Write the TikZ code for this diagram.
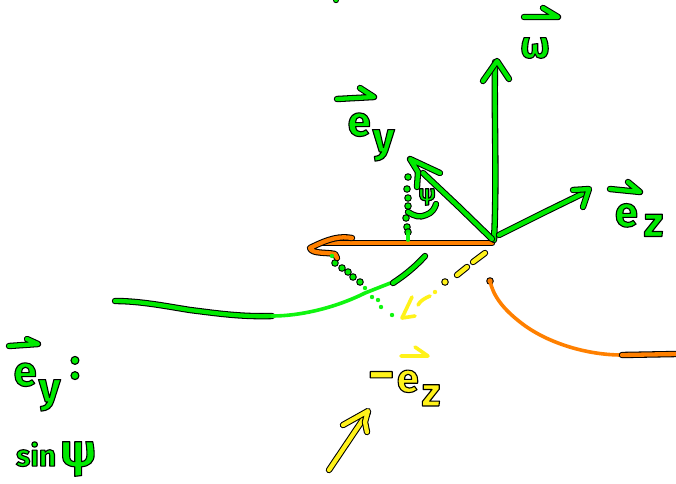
\documentclass[tikz,border=0pt]{standalone}
\usepackage{fontspec}
\setmainfont{Fira Sans}
\definecolor{hgreen}{HTML}{00EA00}
\definecolor{lgreen}{HTML}{10F510}
\definecolor{horange}{HTML}{FF8000}
\definecolor{hyellow}{HTML}{FFF21A}
\newcommand{\inked}[2]{%
  \draw[black,line width=6.4pt] #2;
  \draw[#1,line width=4.3pt] #2;}
\newcommand{\plain}[2]{\draw[#1,line width=3.6pt] #2;}
\newcommand{\hdot}[2]{%
  \fill[black] #2 circle (3.8pt);
  \fill[#1] #2 circle (2.7pt);}
\newcommand{\pdot}[2]{\fill[#1] #2 circle (2.2pt);}
\newcommand{\outl}[1]{\special{pdf:code q 2 Tr 1.1 w 0 0 0 RG}#1\special{pdf:code Q}}
\tikzset{
  handlabel/.style={inner sep=0pt,outer sep=0pt,anchor=center,font=\fontsize{#1}{#1}\selectfont\bfseries},
}
\begin{document}
\begin{tikzpicture}[x=1pt,y=-1pt,line cap=round,line join=round]
\useasboundingbox (0,0) rectangle (676,483);
\fill[white] (0,0) rectangle (676,483);

% top fragment
\inked{hgreen}{(336,-1) -- (336,0)}

% long curve left
\inked{hgreen}{(115,301) .. controls (140,301) and (165,306) .. (190,310) .. controls (215,313) and (240,317) .. (272,316)}
\plain{lgreen}{(272,316) .. controls (300,316) and (335,308) .. (365,293) -- (393,282)}
\inked{hgreen}{(393,283) .. controls (405,275) and (415,267) .. (425,256)}

% orange curve right
\hdot{horange}{(490,281)}
\plain{horange}{(490,281) .. controls (493,295) and (502,308) .. (520,322) .. controls (545,342) and (585,355) .. (622,355)}
\inked{horange}{(622,355) -- (676,354)}

% dotted projection lines
\foreach \p in {(408,177),(407,189),(408,198),(408,206),(406,218),(407,227),(408,232)}{\hdot{hgreen}{\p}}
\foreach \p in {(335,263),(342,268),(348,272),(353,277),(360,282)}{\hdot{hgreen}{\p}}
\foreach \p in {(365,288),(372,297),(378,300),(381,307),(392,315)}{\pdot{lgreen}{\p}}

% orange arrow
\inked{horange}{(492,243) -- (470,243) -- (323,243)}
\inked{horange}{(352,238) .. controls (340,236) and (330,238) .. (310,248) .. controls (312,254) and (325,252) .. (335,254) -- (337,258)}
\pdot{lgreen}{(332,256)}
\draw[lgreen,line width=3.6pt] (408,234) -- (408,240);

% green arrows
\inked{hgreen}{(494,240) .. controls (497,180) and (494,120) .. (495,62)}
\inked{hgreen}{(483,81) -- (497,61) -- (509,79)}
\inked{hgreen}{(499,235) -- (545,212) -- (588,191)}
\inked{hgreen}{(573,190) -- (589,189) -- (583,207)}
\inked{hgreen}{(492,239) -- (458,206) -- (423,173)}
\inked{hgreen}{(417,187) -- (418,172) -- (410,159) -- (440,173)}
\inked{hgreen}{(408,212) .. controls (414,216) and (420,218) .. (426,215) .. controls (432,213) and (435,208) .. (436,204)}

% yellow dashed arrow
\inked{hyellow}{(485,253) -- (473,262)}
\inked{hyellow}{(467,267) -- (457,275)}
\hdot{hyellow}{(445,282)}
\pdot{hyellow}{(435,292)}
\plain{hyellow}{(430,296) .. controls (425,298) and (420,301) .. (418,305)}
\plain{hyellow}{(412,297) -- (402,318) -- (415,316)}

% yellow bottom arrow
\inked{hyellow}{(329,470) -- (368,412)}
\inked{hyellow}{(343,425) -- (368,411) -- (365,422) -- (367,432)}

% vector bars
\inked{hgreen}{(524,17) -- (558,17) -- (543,8)}
\inked{hgreen}{(337,99) -- (374,97) -- (360,88)}
\inked{hgreen}{(610,189) -- (640,192) -- (628,182)}
\inked{hgreen}{(9,346) -- (38,344) -- (27,339)}
\plain{hyellow}{(401,356) -- (428,356) -- (415,347)}

% labels
\node[handlabel=38pt] (omega) at (535,48) {\color{hgreen}\outl{ω}};
\node[handlabel=42pt] (labely) at (371,137) {\color{hgreen}\outl{e\kern2pt\raisebox{-16pt}{y}}};
\node[handlabel=42pt] (labelz) at (639,220) {\color{hgreen}\outl{e\kern6pt\raisebox{-10pt}{z}}};
\node[handlabel=22pt] (psi) at (427,197) {\color{hgreen}\outl{ψ}};
\node[handlabel=42pt] (labelyleft) at (37,387) {\color{hgreen}\outl{e\kern2pt\raisebox{-16pt}{y}}};
\node[handlabel=44pt] (colon) at (75,368) {\color{hgreen}\outl{:}};
\node[handlabel=30pt] (sinpsi) at (56,459) {\color{hgreen}\outl{sin\kern4pt{\fontsize{46pt}{46pt}\selectfont ψ}}};
\node[handlabel=40pt] (labelminus) at (404,388) {\color{hyellow}\outl{{\fontsize{52pt}{52pt}\selectfont −}\kern2pt e\kern3pt\raisebox{-14pt}{z}}};
\end{tikzpicture}
\end{document}
